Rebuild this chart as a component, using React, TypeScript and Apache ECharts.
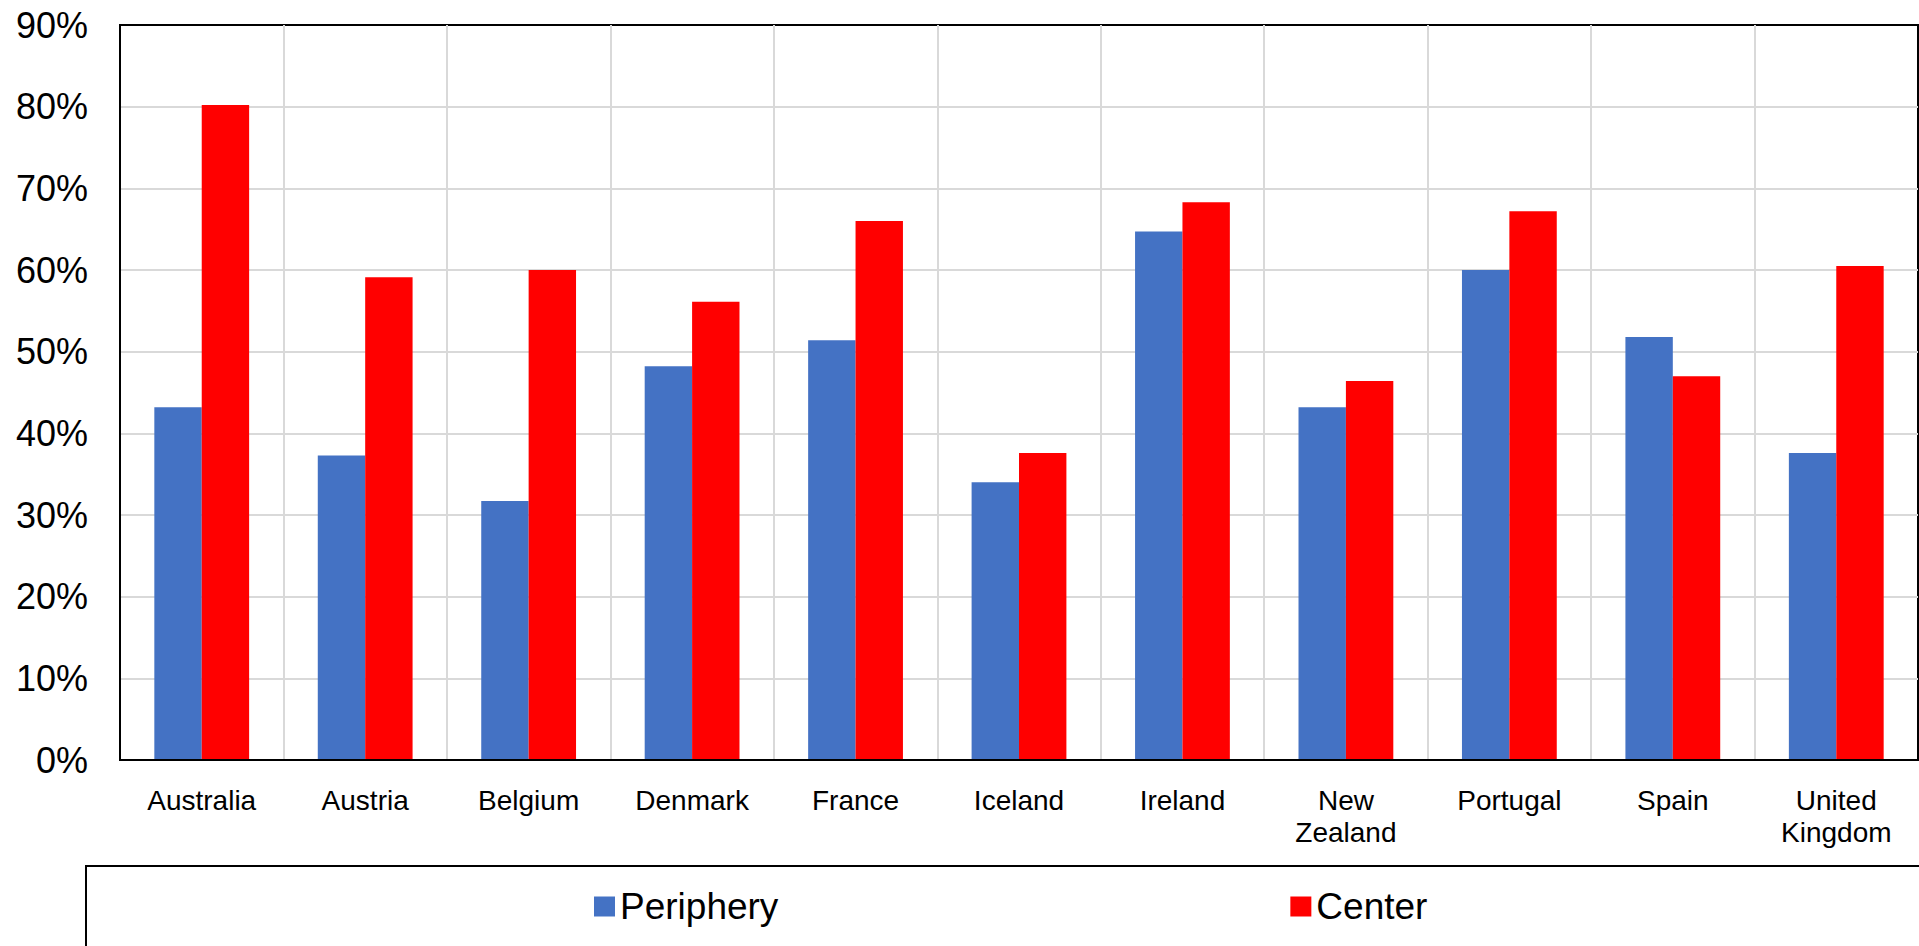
import React, { useEffect, useRef } from "react";
import * as echarts from "echarts";

const categories = [
  "Australia",
  "Austria",
  "Belgium",
  "Denmark",
  "France",
  "Iceland",
  "Ireland",
  "New\nZealand",
  "Portugal",
  "Spain",
  "United\nKingdom",
];
const periphery = [43.2, 37.3, 31.7, 48.2, 51.4, 34.0, 64.7, 43.2, 60.0, 51.8, 37.6];
const center = [80.2, 59.1, 60.0, 56.1, 66.0, 37.6, 68.3, 46.4, 67.2, 47.0, 60.5];
const yMin = 0;
const yMax = 90;
const yStep = 10;

const FONT = "'Liberation Sans', Arial, sans-serif";

export default function App() {
  const ref = useRef<HTMLDivElement>(null);
  useEffect(() => {
    if (!ref.current) return;
    const chart = echarts.init(ref.current, null, { renderer: "svg" });
    chart.setOption({
      animation: false,
      backgroundColor: "#ffffff",
      textStyle: { fontFamily: FONT, color: "#000" },
      grid: {
        left: 120,
        top: 25,
        right: 1,
        bottom: 186,
        show: true,
        borderColor: "#000",
        borderWidth: 2,
        backgroundColor: "transparent",
      },
      legend: {
        left: 594,
        top: 888,
        padding: 0,
        icon: "rect",
        itemWidth: 21,
        itemHeight: 20,
        itemGap: 512,
        textStyle: { fontSize: 37, fontFamily: FONT, color: "#000" },
        data: ["Periphery", "Center"],
      },
      xAxis: {
        type: "category",
        data: categories,
        z: 3,
        axisLine: { show: true, lineStyle: { color: "#000", width: 2 } },
        axisTick: { show: false },
        axisLabel: {
          fontSize: 28,
          lineHeight: 32,
          color: "#000",
          fontFamily: FONT,
          margin: 24,
          interval: 0,
        },
        splitLine: {
          show: true,
          showMinLine: false,
          showMaxLine: false,
          lineStyle: { color: "#d9d9d9", width: 2 },
        },
      },
      yAxis: {
        type: "value",
        min: yMin,
        max: yMax,
        interval: yStep,
        axisLine: { show: true, lineStyle: { color: "#000", width: 2 } },
        axisTick: { show: false },
        axisLabel: {
          fontSize: 36,
          color: "#000",
          fontFamily: FONT,
          margin: 32,
          formatter: "{value}%",
        },
        splitLine: {
          show: true,
          showMinLine: false,
          showMaxLine: false,
          lineStyle: { color: "#d9d9d9", width: 2 },
        },
      },
      series: [
        {
          name: "Periphery",
          type: "bar",
          data: periphery,
          barGap: "0%",
          barCategoryGap: "42%",
          itemStyle: { color: "#4472C4" },
        },
        {
          name: "Center",
          type: "bar",
          data: center,
          barGap: "0%",
          barCategoryGap: "42%",
          itemStyle: { color: "#FF0000" },
        },
      ],
      graphic: [
        {
          type: "rect",
          shape: { x: 86, y: 866, width: 1900, height: 200 },
          style: { fill: "none", stroke: "#000", lineWidth: 2 },
          silent: true,
        },
      ],
    });
    return () => chart.dispose();
  }, []);
  return (
    <div
      ref={ref}
      style={{ position: "fixed", left: 0, top: 0, width: 1919, height: 946 }}
    />
  );
}
